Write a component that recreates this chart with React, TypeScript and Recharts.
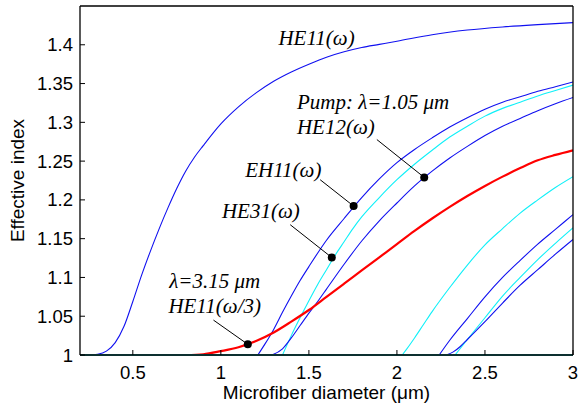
import { LineChart, Line, XAxis, YAxis, ReferenceDot, ReferenceLine } from 'recharts'

const xTicks = [0.5, 1, 1.5, 2, 2.5, 3]
const yTicks = [1, 1.05, 1.1, 1.15, 1.2, 1.25, 1.3, 1.35, 1.4]

// HE11(ω), pump fundamental
const he11D = [0.2, 0.25, 0.3, 0.35, 0.4, 0.45, 0.5, 0.55, 0.6, 0.65, 0.7, 0.75, 0.8, 0.85, 0.9, 1.0, 1.1, 1.2, 1.3, 1.4, 1.5, 1.6, 1.7, 1.8, 1.9, 2.0, 2.2, 2.4, 2.6, 2.8, 3.0]
const he11N = [1, 1, 1.001, 1.005, 1.016, 1.037, 1.069, 1.103, 1.134, 1.163, 1.19, 1.215, 1.237, 1.255, 1.27, 1.298, 1.32, 1.338, 1.353, 1.365, 1.375, 1.384, 1.391, 1.3965, 1.4005, 1.4045, 1.413, 1.419, 1.423, 1.426, 1.4286]

// EH11(ω)
const eh11D = [1.21, 1.25, 1.3, 1.35, 1.4, 1.45, 1.5, 1.6, 1.7, 1.8, 1.9, 2.0, 2.1, 2.2, 2.3, 2.4, 2.5, 2.6, 2.7, 2.8, 2.9, 3.0]
const eh11N = [1, 1.014, 1.033, 1.055, 1.076, 1.096, 1.114, 1.148, 1.176, 1.203, 1.227, 1.248, 1.265, 1.28, 1.294, 1.306, 1.317, 1.326, 1.333, 1.34, 1.346, 1.352]

// HE31(ω)
const he31D = [1.35, 1.4, 1.45, 1.5, 1.55, 1.6, 1.65, 1.7, 1.75, 1.8, 1.9, 2.0, 2.1, 2.2, 2.3, 2.4, 2.5, 2.6, 2.7, 2.8, 2.9, 3.0]
const he31N = [1, 1.025, 1.048, 1.07, 1.091, 1.11, 1.129, 1.146, 1.163, 1.178, 1.203, 1.226, 1.246, 1.264, 1.281, 1.295, 1.308, 1.318, 1.326, 1.334, 1.341, 1.348]

// HE12(ω)
const he12D = [1.29, 1.35, 1.4, 1.45, 1.5, 1.55, 1.6, 1.7, 1.8, 1.9, 2.0, 2.1, 2.2, 2.3, 2.4, 2.5, 2.6, 2.7, 2.8, 2.9, 3.0]
const he12N = [1, 1.008, 1.022, 1.038, 1.054, 1.069, 1.085, 1.117, 1.147, 1.173, 1.196, 1.218, 1.237, 1.254, 1.269, 1.283, 1.295, 1.305, 1.315, 1.324, 1.332]

// higher-order modes near the right edge
const cyanBD = [2.03, 2.05, 2.1, 2.15, 2.2, 2.3, 2.4, 2.5, 2.6, 2.7, 2.8, 2.9, 3.0]
const cyanBN = [1, 1.006, 1.022, 1.039, 1.056, 1.087, 1.116, 1.142, 1.163, 1.183, 1.2, 1.216, 1.23]

const blueCD = [2.24, 2.3, 2.4, 2.5, 2.6, 2.7, 2.8, 2.9, 3.0]
const blueCN = [1, 1.019, 1.047, 1.075, 1.1, 1.122, 1.143, 1.162, 1.181]

const cyanCD = [2.33, 2.4, 2.5, 2.6, 2.7, 2.8, 2.9, 3.0]
const cyanCN = [1, 1.02, 1.048, 1.076, 1.1, 1.123, 1.144, 1.164]

const blueDD = [2.28, 2.32, 2.36, 2.4, 2.5, 2.6, 2.7, 2.8, 2.9, 3.0]
const blueDN = [1, 1.004, 1.011, 1.02, 1.043, 1.067, 1.09, 1.11, 1.13, 1.149]

// HE11(ω/3), λ = 3.15 µm
const thD = [0.8, 0.9, 1.0, 1.1, 1.2, 1.3, 1.4, 1.5, 1.6, 1.7, 1.8, 1.9, 2.0, 2.1, 2.2, 2.3, 2.4, 2.5, 2.6, 2.7, 2.8, 2.9, 3.0]
const thN = [1, 1.001, 1.005, 1.01, 1.018, 1.029, 1.043, 1.058, 1.075, 1.092, 1.109, 1.126, 1.143, 1.16, 1.176, 1.191, 1.205, 1.218, 1.23, 1.241, 1.251, 1.258, 1.264]

// annotation text anchors (diameter, index)
const labelText = ['HE11(ω)', 'Pump: λ=1.05 μm', 'HE12(ω)', 'EH11(ω)', 'HE31(ω)', 'λ=3.15 μm', 'HE11(ω/3)']
const labelD = [1.327, 1.432, 1.432, 1.138, 1.006, 0.707, 0.702]
const labelN = [1.3992, 1.3178, 1.2855, 1.23, 1.177, 1.0866, 1.0543]

// leader lines: start -> marked point on the curve
const leadFromD = [1.886, 1.564, 1.394, 0.958]
const leadFromN = [1.2778, 1.226, 1.168, 1.045]
const markD = [2.155, 1.754, 1.63, 1.153]
const markN = [1.229, 1.192, 1.1257, 1.0138]

const pts = (d: number[], n: number[]) => d.map((x, i) => ({ d: x, n: n[i] }))

const BLUE = '#1010f0'
const CYAN = '#10f0f8'
const sans = "'Liberation Sans', Arial, sans-serif"
const serif = "'Liberation Serif', 'Times New Roman', serif"

const series = [
  { key: 'he11', d: he11D, n: he11N, color: BLUE, w: 1.1 },
  { key: 'he31', d: he31D, n: he31N, color: CYAN, w: 1.1 },
  { key: 'eh11', d: eh11D, n: eh11N, color: BLUE, w: 1.1 },
  { key: 'he12', d: he12D, n: he12N, color: BLUE, w: 1.1 },
  { key: 'cyanB', d: cyanBD, n: cyanBN, color: CYAN, w: 1.1 },
  { key: 'cyanC', d: cyanCD, n: cyanCN, color: CYAN, w: 1.1 },
  { key: 'blueC', d: blueCD, n: blueCN, color: BLUE, w: 1.1 },
  { key: 'blueD', d: blueDD, n: blueDN, color: BLUE, w: 1.1 },
  { key: 'third', d: thD, n: thN, color: '#ff0000', w: 2.2 },
]

export default function App() {
  return (
    <div style={{ position: 'absolute', left: 0, top: 0, width: 579, height: 407, background: '#fff' }}>
      <LineChart width={579} height={407} margin={{ top: 6, right: 6, bottom: 0, left: 0 }}>
        <XAxis
          type="number"
          dataKey="d"
          domain={[0.2, 3]}
          ticks={xTicks}
          interval={0}
          allowDataOverflow
          height={52}
          tickSize={-5}
          tickMargin={16}
          axisLine={{ stroke: '#0d3030', strokeWidth: 2 }}
          tickLine={{ stroke: '#000' }}
          tick={{ fill: '#000', fontSize: 18.5, fontFamily: sans }}
          label={{ value: 'Microfiber diameter (μm)', position: 'insideBottom', offset: 8.5, fill: '#000', fontSize: 19, fontFamily: sans }}
        />
        <XAxis
          xAxisId="top"
          orientation="top"
          type="number"
          dataKey="d"
          domain={[0.2, 3]}
          ticks={xTicks}
          interval={0}
          mirror
          tick={false}
          tickSize={5}
          axisLine={{ stroke: '#000', strokeWidth: 1.3 }}
          tickLine={{ stroke: '#000' }}
        />
        <YAxis
          type="number"
          domain={[1, 1.45]}
          ticks={yTicks}
          interval={0}
          allowDataOverflow
          width={80}
          tickSize={-5}
          tickMargin={12}
          axisLine={{ stroke: '#000', strokeWidth: 1.3 }}
          tickLine={{ stroke: '#000' }}
          tick={{ fill: '#000', fontSize: 18.5, fontFamily: sans }}
          label={{ value: 'Effective index', angle: -90, position: 'insideLeft', offset: 17, fill: '#000', fontSize: 19, fontFamily: sans, style: { textAnchor: 'middle' } }}
        />
        <YAxis
          yAxisId="right"
          orientation="right"
          type="number"
          domain={[1, 1.45]}
          ticks={yTicks}
          interval={0}
          mirror
          tick={false}
          tickSize={5}
          axisLine={{ stroke: '#000', strokeWidth: 1.3 }}
          tickLine={{ stroke: '#000' }}
        />
        {series.map((s) => (
          <Line
            key={s.key}
            data={pts(s.d, s.n)}
            dataKey="n"
            type="monotone"
            stroke={s.color}
            strokeWidth={s.w}
            dot={false}
            activeDot={false}
            isAnimationActive={false}
          />
        ))}
        {leadFromD.map((d, i) => (
          <ReferenceLine
            key={'l' + i}
            segment={[{ x: d, y: leadFromN[i] }, { x: markD[i], y: markN[i] }]}
            stroke="#000"
            strokeWidth={1}
          />
        ))}
        {markD.map((d, i) => (
          <ReferenceDot key={'m' + i} x={d} y={markN[i]} r={4} fill="#000" stroke="none" />
        ))}
        {labelText.map((t, i) => (
          <ReferenceDot
            key={'t' + i}
            x={labelD[i]}
            y={labelN[i]}
            r={0}
            shape={(p: any) => (
              <text x={p.cx} y={p.cy} fill="#000" fontFamily={serif} fontStyle="italic" fontSize={21}>
                {t}
              </text>
            )}
          />
        ))}
      </LineChart>
    </div>
  )
}
